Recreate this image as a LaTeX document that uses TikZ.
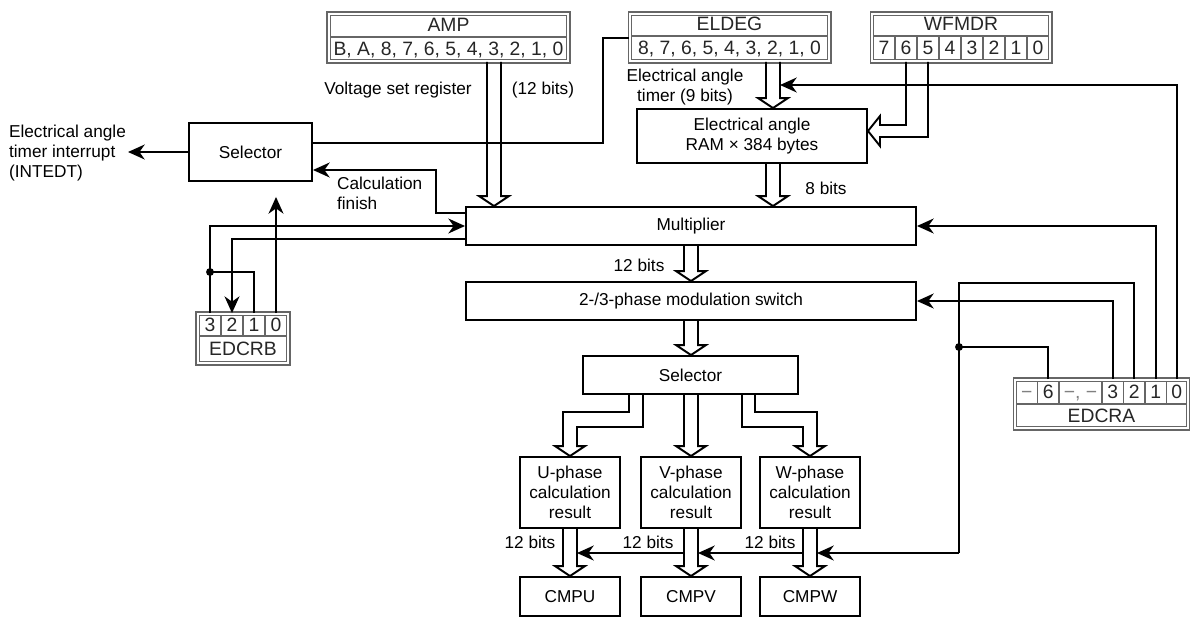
\documentclass[tikz,border=0pt]{standalone}
\usepackage{fontspec}
\setmainfont{Liberation Sans}
\usetikzlibrary{arrows.meta,calc}

\newcommand{\lblfont}{\fontsize{9.8}{11.3}\selectfont}
\newcommand{\regfont}{\fontsize{11}{12}\selectfont}
\colorlet{regc}{black!60}

% hollow bus arrow, straight down from node #2 to node #3 at x=#1
\newcommand{\busdown}[3]{%
  \draw[bus] ($(#2.south -| #1,0)+(-7,0)$) -- ($(#3.north -| #1,0)+(-7,-10)$)
    -- ++(-8,0) -- (#3.north -| #1,0) -- ++(15,-10) -- ++(-8,0)
    -- ($(#2.south -| #1,0)+(7,0)$);}

\begin{document}
\begin{tikzpicture}[x=0.2mm, y=-0.2mm, font=\lblfont,
  blk/.style={draw, line width=1.1pt, align=center, inner sep=1pt},
  reg/.style={draw=regc, double=white, double distance=1.2pt, line width=0.6pt, inner sep=0pt},
  regline/.style={draw=regc, line width=0.6pt},
  regtxt/.style={font=\regfont, text=black!85, inner sep=0pt, text height=0.72em, text depth=0pt},
  dimtxt/.style={regtxt, text=black!50},
  lbl/.style={inner sep=1pt},
  wire/.style={line width=1.1pt},
  arr/.style={wire, -{Stealth[length=9.5pt, width=8.5pt, inset=3pt]}},
  bus/.style={line width=1.1pt, line join=miter},
  dot/.style={circle, fill, inner sep=0pt, minimum size=4.5pt}]

\useasboundingbox (0,0) rectangle (1190,617);

% registers
\node[reg, minimum width=47.96mm, minimum height=9.56mm] (amp) at (448.5,37.5) {};
\draw[regline] (330,37) -- (567,37);
\node[regtxt] (ampname) at (448.5,25) {AMP};
\node[regtxt] (ampbits) at (448.5,49) {B, A, 8, 7, 6, 5, 4, 3, 2, 1, 0};

\node[reg, minimum width=39.96mm, minimum height=9.56mm] (eldeg) at (729.5,37.5) {};
\draw[regline] (631,36) -- (828,36);
\node[regtxt] (eldegname) at (729.5,24.5) {ELDEG};
\node[regtxt] (eldegbits) at (729.5,48) {8, 7, 6, 5, 4, 3, 2, 1, 0};

\node[reg, minimum width=35.76mm, minimum height=9.56mm] (wfmdr) at (961,37.5) {};
\draw[regline] (873,36) -- (1049,36);
\foreach \x in {895,917,...,1027} \draw[regline] (\x,36) -- (\x,60);
\node[regtxt] (wfname) at (961,24.5) {WFMDR};
\foreach \b [count=\i] in {7,6,...,0} \node[regtxt] (wf\b) at (873+22*\i-11,48) {\b};

\node[reg, minimum width=34.76mm, minimum height=9.76mm] (edcra) at (1101.5,404) {};
\draw[regline] (1016,404) -- (1187,404);
\foreach \x in {1037.5,1059,1102,1123.5,1145,1166.5} \draw[regline] (\x,381) -- (\x,404);
\node[dimtxt] (ea7) at (1026.75,392.5) {−};
\node[regtxt] (ea6) at (1048.25,392.5) {6};
\node[dimtxt] (ea54) at (1080.5,392.5) {−, −};
\foreach \b/\x in {3/1112.75,2/1134.25,1/1155.75,0/1176.75} \node[regtxt] (ea\b) at (\x,392.5) {\b};
\node[regtxt] (eaname) at (1101.5,416.5) {EDCRA};

\node[reg, minimum width=18.16mm, minimum height=9.96mm] (edcrb) at (243,338.5) {};
\draw[regline] (199,336) -- (287,336);
\foreach \x in {221,243,265} \draw[regline] (\x,315) -- (\x,336);
\foreach \b/\x in {3/210,2/232,1/254,0/276} \node[regtxt] (eb\b) at (\x,325.5) {\b};
\node[regtxt] (ebname) at (243,349.5) {EDCRB};

% blocks
\node[blk, minimum width=24.6mm, minimum height=11.6mm] (sel1) at (250.5,152) {Selector};
\node[blk, minimum width=46mm, minimum height=10.8mm] (ram) at (752,136) {Electrical angle\\RAM × 384 bytes};
\node[blk, minimum width=90mm, minimum height=7.6mm] (mult) at (691,226) {Multiplier};
\node[blk, minimum width=90mm, minimum height=7.6mm] (modsw) at (691,301) {2-/3-phase modulation switch};
\node[blk, minimum width=43mm, minimum height=7.6mm] (sel2) at (690.5,375) {Selector};
\node[blk, minimum width=20mm, minimum height=14.2mm] (uph) at (570,492.5) {U-phase\\calculation\\result};
\node[blk, minimum width=20mm, minimum height=14.2mm] (vph) at (691,492.5) {V-phase\\calculation\\result};
\node[blk, minimum width=20mm, minimum height=14.2mm] (wph) at (810,492.5) {W-phase\\calculation\\result};
\node[blk, minimum width=20mm, minimum height=7.8mm] (cmpu) at (570,596.5) {CMPU};
\node[blk, minimum width=20mm, minimum height=7.8mm] (cmpv) at (691,596.5) {CMPV};
\node[blk, minimum width=20mm, minimum height=7.8mm] (cmpw) at (810,596.5) {CMPW};

% labels
\node[lbl] (vsr) at (398,90) {Voltage set register};
\node[lbl] (b12a) at (543,90) {(12 bits)};
\node[lbl, align=center] (eat) at (685,87) {Electrical angle\\timer (9 bits)};
\node[lbl] (b8) at (826,188) {8 bits};
\node[lbl, align=left, anchor=west] (cfin) at (335,193) {Calculation\\finish};
\node[lbl] (b12b) at (639,265) {12 bits};
\node[lbl] (b12u) at (530,542) {12 bits};
\node[lbl] (b12v) at (648,542) {12 bits};
\node[lbl] (b12w) at (770,542) {12 bits};
\node[lbl, align=left, anchor=west] (intedt) at (7,153) {Electrical angle\\timer interrupt\\(INTEDT)};

% left side
\draw[arr] (sel1.west) -- (intedt.east |- sel1.west);
\draw[wire] (eldeg.west |- 0,38) -| (603,143) -- (sel1.east |- 0,143);
\draw[arr] (mult.west |- 0,213) -| (436,170) -- (sel1.east |- 0,170);
\draw[arr] (eb3 |- edcrb.north) |- (mult.west);
\draw[wire] (eb1 |- edcrb.north) |- (eb3 |- 0,272) node[dot] (jb) {};
\draw[arr] (mult.west |- 0,239) -| (eb2 |- edcrb.north);
\draw[arr, shorten >=3mm] (eb0 |- edcrb.north) -- (eb0 |- sel1.south);

% data buses
\busdown{494}{amp}{mult}
\busdown{773}{eldeg}{ram}
\busdown{773}{ram}{mult}
\busdown{691}{mult}{modsw}
\busdown{691}{modsw}{sel2}
\busdown{691}{sel2}{vph}
\busdown{570}{uph}{cmpu}
\busdown{691}{vph}{cmpv}
\busdown{810}{wph}{cmpw}
\draw[bus] (sel2.south -| 629,0) |- (563,412) -- ($(uph.north)+(-7,-10)$) -- ++(-8,0)
  -- (uph.north) -- ++(15,-10) -- ++(-8,0) |- (643,427) -- (sel2.south -| 643,0);
\draw[bus] (sel2.south -| 742,0) |- (803,427) -- ($(wph.north)+(-7,-10)$) -- ++(-8,0)
  -- (wph.north) -- ++(15,-10) -- ++(-8,0) |- (755,412) -- (sel2.south -| 755,0);
\draw[bus] (wf6 |- wfmdr.south) |- (880,125) -- (880,116) -- (ram.east |- 0,131)
  -- (880,146) -- (880,137) -| (wf5 |- wfmdr.south);

% EDCRA control
\coordinate (tmr) at (780,85);
\coordinate (cmpline) at (959,553);
\draw[arr] (ea0 |- edcra.north) |- (tmr);
\draw[arr] (ea1 |- edcra.north) |- (mult.east);
\draw[arr] (ea3 |- edcra.north) |- (modsw.east);
\draw[wire] (ea2 |- edcra.north) |- (959,283) -- (cmpline);
\draw[wire] (ea6 |- edcra.north) |- (959,347) node[dot] (ja) {};
\draw[arr] (cmpline) -- (cmpline -| 817,0);
\draw[arr] (cmpline -| 803,0) -- (cmpline -| 698,0);
\draw[arr] (cmpline -| 684,0) -- (cmpline -| 577,0);

\end{tikzpicture}
\end{document}
